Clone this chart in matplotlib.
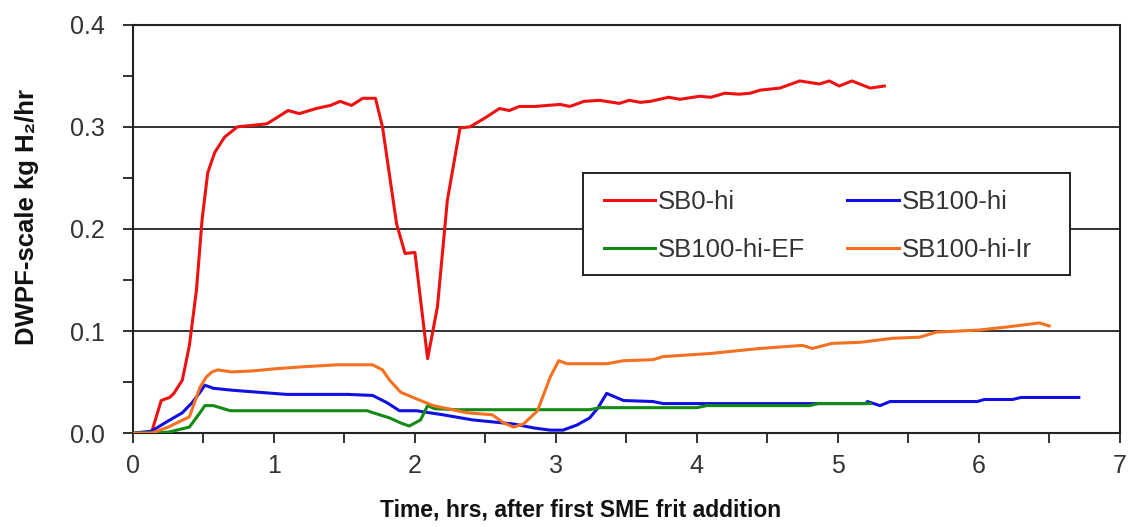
import matplotlib
matplotlib.use("Agg")
import matplotlib.pyplot as plt
from matplotlib.patches import Rectangle
from matplotlib.ticker import MultipleLocator, FormatStrFormatter

# ---- data ----
sb0_x = [0, 0.13, 0.2, 0.26, 0.29, 0.35, 0.40, 0.45, 0.49, 0.53, 0.58, 0.65, 0.74, 0.88,
         0.95, 1.02, 1.10, 1.18, 1.30, 1.40, 1.47, 1.55, 1.63, 1.72, 1.77, 1.87, 1.93, 2.00, 2.09,
         2.16, 2.23, 2.32, 2.39, 2.50, 2.60, 2.67, 2.74, 2.85, 3.03, 3.10, 3.20, 3.31, 3.45,
         3.52, 3.60, 3.67, 3.80, 3.88, 4.02, 4.10, 4.20, 4.30, 4.38, 4.45, 4.59,
         4.73, 4.87, 4.94, 5.01, 5.10, 5.23, 5.33]
sb0_y = [0, 0.0, 0.032, 0.035, 0.039, 0.052, 0.086, 0.14, 0.209, 0.255, 0.275, 0.290, 0.300,
         0.302, 0.303, 0.309, 0.316, 0.313, 0.318, 0.321, 0.325, 0.321, 0.328, 0.328, 0.300,
         0.205, 0.176, 0.177, 0.073, 0.124, 0.228, 0.299, 0.300, 0.309, 0.318, 0.316, 0.320,
         0.320, 0.322, 0.320, 0.325, 0.326, 0.323, 0.326, 0.324, 0.325, 0.329, 0.327, 0.330,
         0.329, 0.333, 0.332, 0.333, 0.336, 0.338, 0.345, 0.342, 0.345, 0.340, 0.345, 0.338,
         0.340]

sb100_x = [0, 0.13, 0.25, 0.35, 0.42, 0.475, 0.51, 0.57, 0.71, 0.90, 1.09, 1.52, 1.70, 1.80,
           1.89, 2.01, 2.20, 2.41, 2.70, 2.85, 2.96, 3.05, 3.15, 3.24, 3.30, 3.36, 3.48,
           3.69, 3.76, 4.78, 5.20, 5.21, 5.30, 5.37, 5.99, 6.04, 6.24, 6.30, 6.71]
sb100_y = [0, 0.002, 0.012, 0.020, 0.030, 0.040, 0.047, 0.044, 0.042, 0.040, 0.038, 0.038,
           0.037, 0.030, 0.022, 0.022, 0.018, 0.013, 0.009, 0.005, 0.003, 0.003, 0.008, 0.015,
           0.025, 0.039, 0.032, 0.031, 0.029, 0.029, 0.029, 0.031, 0.027, 0.031, 0.031, 0.033,
           0.033, 0.035, 0.035]

ef_x = [0, 0.25, 0.40, 0.475, 0.51, 0.57, 0.69, 1.66, 1.75, 1.82, 1.90, 1.96, 2.04, 2.09,
        2.14, 2.30, 3.24, 3.31, 4.00, 4.07, 4.80, 4.86, 5.23]
ef_y = [0, 0.001, 0.006, 0.020, 0.027, 0.027, 0.022, 0.022, 0.018, 0.015, 0.010, 0.007,
        0.013, 0.027, 0.024, 0.023, 0.023, 0.025, 0.025, 0.027, 0.027, 0.029, 0.029]

lr_x = [0, 0.13, 0.25, 0.40, 0.475, 0.52, 0.56, 0.60, 0.70, 0.85, 1.00, 1.20, 1.45, 1.70,
        1.77, 1.82, 1.90, 2.04, 2.13, 2.37, 2.55, 2.63, 2.70, 2.77, 2.87, 2.96, 3.02, 3.08,
        3.36, 3.48, 3.69, 3.76, 4.09, 4.45, 4.75, 4.82, 4.96, 5.16, 5.39, 5.58, 5.70, 6.00,
        6.20, 6.43, 6.50]
lr_y = [0, 0.0, 0.006, 0.016, 0.045, 0.055, 0.060, 0.062, 0.060, 0.061, 0.063, 0.065, 0.067,
        0.067, 0.062, 0.052, 0.040, 0.032, 0.027, 0.020, 0.018, 0.010, 0.006, 0.009, 0.022,
        0.055, 0.071, 0.068, 0.068, 0.071, 0.072, 0.075, 0.078, 0.083, 0.086, 0.083, 0.088,
        0.089, 0.093, 0.094, 0.099, 0.101, 0.104, 0.108, 0.105]

labels = ["SB0-hi", "SB100-hi", "SB100-hi-EF", "SB100-hi-Ir"]
colors = ["#ee1111", "#1010e0", "#138a13", "#f5701f"]

xlabel = "Time, hrs, after first SME frit addition"
ylabel = "DWPF-scale kg H\u2082/hr"

plt.rcParams['font.family'] = ['Liberation Sans', 'DejaVu Sans']

fig = plt.figure(figsize=(11.31, 5.27), dpi=100)
ax = fig.add_axes([0.1176, 0.178, 0.8724, 0.775])

lw = 2.2
l1, = ax.plot(sb0_x, sb0_y, color=colors[0], lw=lw, label=labels[0], zorder=3)
l2, = ax.plot(sb100_x, sb100_y, color=colors[1], lw=lw, label=labels[1], zorder=3)
l3, = ax.plot(ef_x, ef_y, color=colors[2], lw=lw, label=labels[2], zorder=3)
l4, = ax.plot(lr_x, lr_y, color=colors[3], lw=lw, label=labels[3], zorder=3)

ax.set_xlim(0, 7)
ax.set_ylim(0, 0.4)
ax.xaxis.set_major_locator(MultipleLocator(1))
ax.xaxis.set_minor_locator(MultipleLocator(0.5))
ax.yaxis.set_major_locator(MultipleLocator(0.1))
ax.yaxis.set_minor_locator(MultipleLocator(0.05))
ax.yaxis.set_major_formatter(FormatStrFormatter('%.1f'))

ax.grid(axis='y', which='major', color='#222222', lw=1.3, zorder=1)
for s in ax.spines.values():
    s.set_color('#222222')
    s.set_linewidth(1.5)

ax.tick_params(which='both', direction='out', length=7, width=1.3, color='#222222',
               labelsize=18, labelcolor='#333333')
ax.tick_params(axis='x', pad=8)
ax.tick_params(axis='y', pad=13)

ax.set_xlabel(xlabel, fontsize=16.5, fontweight='bold', color='#111111')
ax.xaxis.set_label_coords(0.454, -0.16)
ax.set_ylabel(ylabel, fontsize=18.5, fontweight='bold', color='#111111')
ax.yaxis.set_label_coords(-0.095, 0.53)

# legend box (drawn as a patch so its size matches the reference)
box = Rectangle((0.456, 0.387), 0.494, 0.25, transform=ax.transAxes,
                facecolor='white', edgecolor='#222222', lw=1.4, zorder=4)
ax.add_patch(box)

leg = ax.legend(handles=[l1, l3, l2, l4], labels=[labels[0], labels[2], labels[1], labels[3]],
                loc='upper left', ncol=2, bbox_to_anchor=(0.477, 0.595),
                fontsize=18.5, frameon=False,
                handlelength=2.0, handletextpad=0.12, borderaxespad=0, borderpad=0,
                labelspacing=0.93, columnspacing=1.63)
leg.set_zorder(5)
for t in leg.get_texts():
    t.set_color('#333333')

fig.savefig("out.png", dpi=100)
